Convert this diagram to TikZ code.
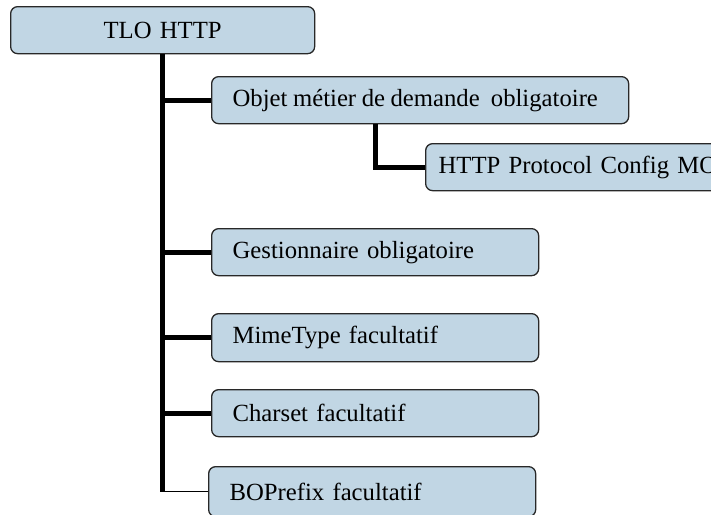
\documentclass[tikz,border=0pt]{standalone}
\usepackage{fontspec}
\setmainfont[WordSpace=0.9]{Liberation Serif}
\usetikzlibrary{positioning}
\definecolor{boxblue}{RGB}{193,214,228}
\definecolor{boxline}{RGB}{40,40,40}

\begin{document}
\begin{tikzpicture}[x=1pt,y=-1pt]
\tikzstyle{every node}+=[font=\fontsize{24.7}{28}\selectfont]
\tikzstyle{box}=[draw=boxline, line width=1.3pt, fill=boxblue, rounded corners=7pt, anchor=north west, minimum height=47pt, inner xsep=21pt, align=left]
\tikzstyle{trunk}=[line width=5pt, black]
\tikzstyle{twig}=[line width=1.6pt, black]
\useasboundingbox (0,0) rectangle (711,514);
\clip (0,0) rectangle (711,514);
% boxes
\node[box, align=center, text width=262pt] (tlo) at (10,6) {TLO HTTP};
\node[box] (objet) at (211,76) {\makebox[375pt][l]{Objet métier de demande\ \ obligatoire}};
\node[box, inner xsep=13pt, text width=314pt] (proto) at (425,143) {HTTP Protocol Config MO};
\node[box, text width=285pt] (gest) at (211,228) {Gestionnaire obligatoire};
\node[box, text width=285pt, minimum height=48pt] (mime) at (211,313) {MimeType facultatif};
\node[box, text width=285pt] (chars) at (211,389) {Charset facultatif};
\node[box, text width=285pt, minimum height=50pt] (bopre) at (208,466) {BOPrefix facultatif};
% tree lines
\coordinate (tend) at (tlo.south |- bopre.west);
\coordinate (sub) at (375,0);
\draw[trunk] (tlo.south) -- (tend);
\draw[trunk] (tlo.south |- objet.west) -- (objet.west);
\draw[trunk] (tlo.south |- gest.west) -- (gest.west);
\draw[trunk] (tlo.south |- mime.west) -- (mime.west);
\draw[trunk] (tlo.south |- chars.west) -- (chars.west);
\draw[twig] (tend) -- (bopre.west);
\draw[trunk] (sub |- objet.south) -- (sub |- proto.west) -- (proto.west);
\end{tikzpicture}
\end{document}
